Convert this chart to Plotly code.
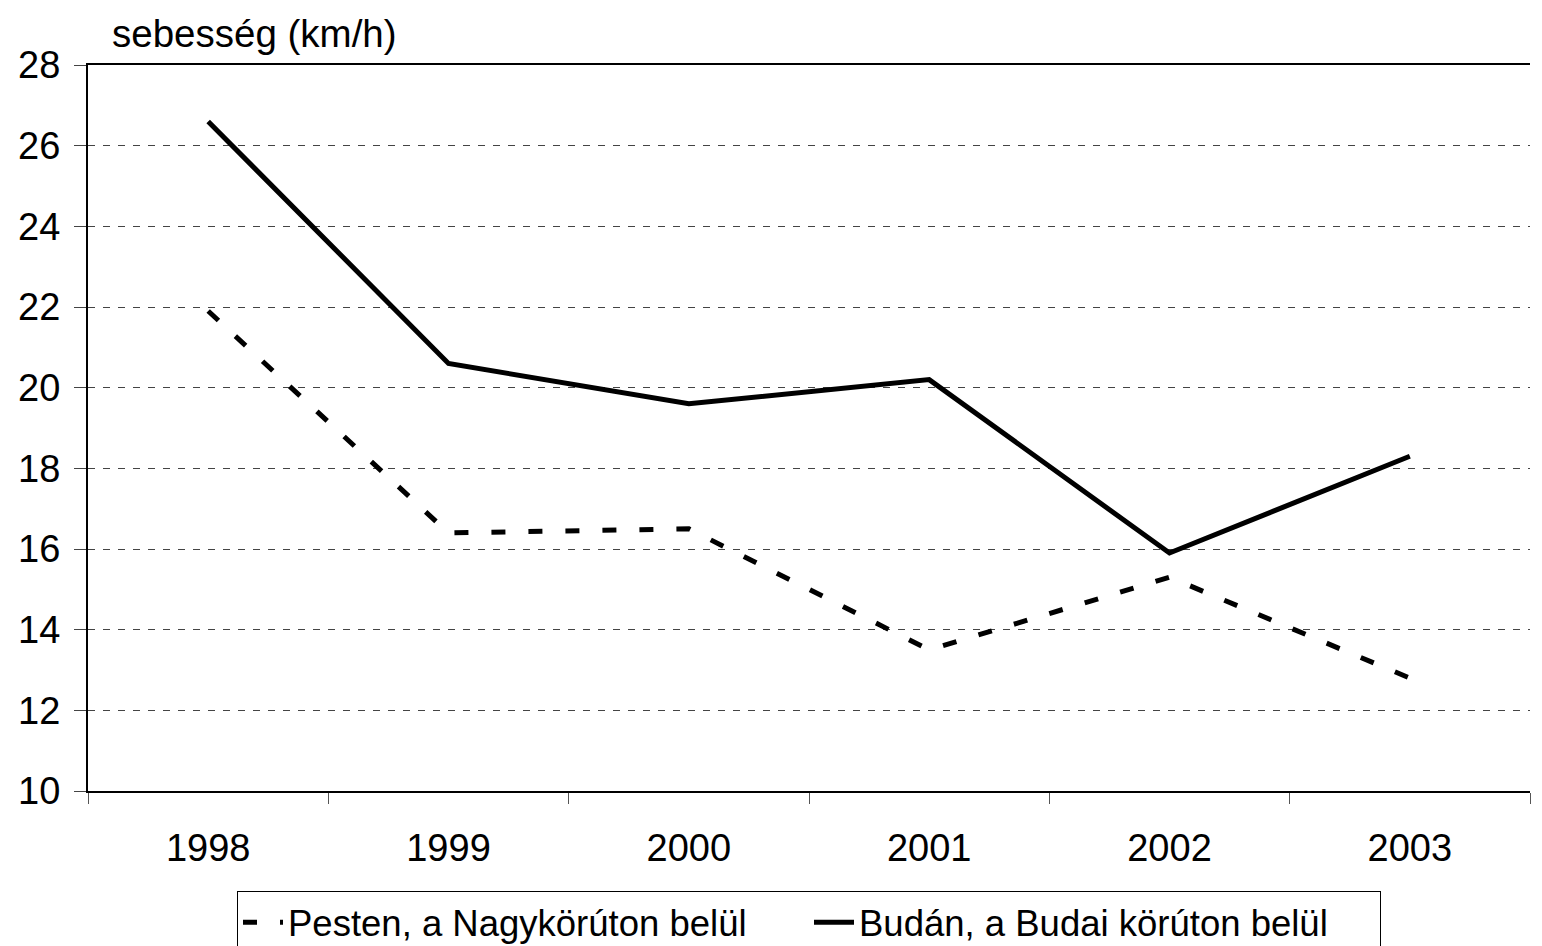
import plotly.graph_objects as go

years = ["1998", "1999", "2000", "2001", "2002", "2003"]
pest_values = [21.9, 16.4, 16.5, 13.5, 15.3, 12.8]
buda_values = [26.6, 20.6, 19.6, 20.2, 15.9, 18.3]
pest_name = "Pesten, a Nagykörúton belül"
buda_name = "Budán, a Budai körúton belül"
y_title = "sebesség (km/h)"
y_ticks = [10, 12, 14, 16, 18, 20, 22, 24, 26, 28]

FONT = "Liberation Sans, Arial, sans-serif"

fig = go.Figure()
fig.add_trace(go.Scatter(
    x=years, y=pest_values, name=pest_name, mode="lines",
    line=dict(color="black", width=5, dash="14px,23px"),
))
fig.add_trace(go.Scatter(
    x=years, y=buda_values, name=buda_name, mode="lines",
    line=dict(color="black", width=5),
))

fig.update_layout(
    width=1542, height=946,
    margin=dict(l=88, r=12, t=65, b=155),
    paper_bgcolor="white", plot_bgcolor="white",
    font=dict(family=FONT, size=38, color="black"),
    showlegend=True,
    legend=dict(
        orientation="h", x=0.5, xanchor="center",
        yref="container", y=(946 - 891) / 946, yanchor="top",
        bordercolor="black", borderwidth=1, bgcolor="white",
        font=dict(family=FONT, size=36.5, color="black"),
        itemwidth=40, tracegroupgap=0,
        entrywidth=516, entrywidthmode="pixels",
    ),
    annotations=[dict(
        text=y_title, xref="paper", yref="paper", x=0.015, y=1.044,
        xanchor="left", yanchor="middle", showarrow=False,
        font=dict(family=FONT, size=38.5, color="black"),
    )],
)

fig.update_xaxes(
    type="category", range=[-0.5, 5.5],
    showline=True, linecolor="black", linewidth=2, mirror=True,
    ticks="outside", tickson="boundaries", ticklen=11, tickcolor="#555555", tickwidth=1,
    showgrid=False, zeroline=False,
    ticklabelstandoff=22,
    tickfont=dict(family=FONT, size=38, color="black"),
)
fig.update_yaxes(
    range=[10, 28], tickvals=y_ticks,
    showline=True, linecolor="black", linewidth=2,
    ticks="outside", ticklen=12, tickcolor="#444444", tickwidth=1,
    showgrid=True, gridcolor="#444444", gridwidth=1, griddash="7px,8px",
    zeroline=False,
    ticklabelstandoff=6,
    tickfont=dict(family=FONT, size=38, color="black"),
)

fig.write_html(
    "out.html",
    config={"displayModeBar": False},
    post_script="document.body.style.margin='0';document.body.style.overflow='hidden';",
)
